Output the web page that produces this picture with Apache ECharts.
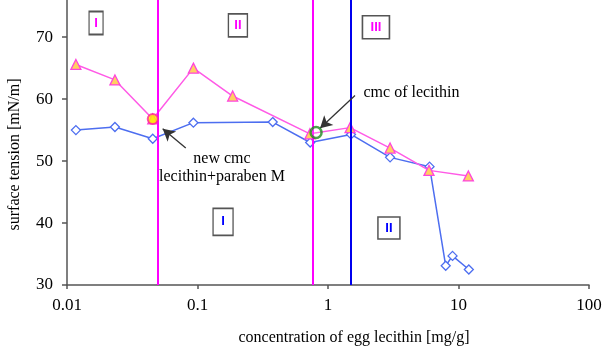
<!DOCTYPE html>
<html><head><meta charset="utf-8">
<script src="https://cdn.jsdelivr.net/npm/echarts@6/dist/echarts.min.js"></script>
<style>html,body{margin:0;padding:0;background:#fff}#c{width:602px;height:350px}</style>
</head><body><div id="c"></div>
<script>
// data
const pinkX = [0.0117, 0.0233, 0.0454, 0.093, 0.186, 0.727, 1.476, 2.99, 5.94, 11.9];
const pinkY = [65.6, 63.1, 56.8, 65.0, 60.5, 54.4, 55.4, 52.1, 48.5, 47.6];
const blueX = [0.0117, 0.0233, 0.0454, 0.093, 0.377, 0.73, 1.5, 2.99, 6.0, 7.98, 9.0, 12.0];
const blueY = [55.0, 55.5, 53.6, 56.2, 56.3, 53.0, 54.3, 50.6, 49.1, 33.1, 34.7, 32.5];
const cmcPinkX = [0.0454, 0.759];   // magenta vertical lines
const cmcBlueX = [1.50];            // blue vertical line
const newCmc = [0.0454, 56.8];      // yellow point
const cmcLec = [0.81, 54.6];        // green circle
const yTicks = [30, 40, 50, 60, 70];
const xTicks = [0.01, 0.1, 1, 10, 100];
const pinkRegions = [['I', 0.0167, 72.3], ['II', 0.204, 71.9], ['III', 2.33, 71.6]];
const blueRegions = [['I', 0.157, 40.2], ['II', 2.93, 39.2]];
const notes = [
  {text: 'new cmc\nlecithin+paraben M', at: [0.154, 48.9], from: [0.0813, 52.1], to: [0.0541, 55.2]},
  {text: 'cmc of lecithin', at: [1.854, 61.0], from: [1.61, 60.6], to: [0.869, 55.3]}
];

const serif = '"Liberation Serif", "Times New Roman", serif';
const chart = echarts.init(document.getElementById('c'));

function boxes(list, color, sizes) {
  return list.map((r, i) => ({
    coord: [r[1], r[2]],
    symbol: 'rect',
    symbolSize: sizes[i],
    itemStyle: {color: '#fff', borderColor: '#555', borderWidth: 1.5},
    label: {show: true, position: 'inside', formatter: r[0], color: color,
      fontFamily: '"Liberation Sans", Arial, sans-serif', fontWeight: 'bold', fontSize: 13}
  }));
}

chart.setOption({
  animation: false,
  grid: {left: 67, right: 13, top: 0, bottom: 65, containLabel: false, outerBoundsMode: 'none'},
  xAxis: {
    type: 'log', logBase: 10, min: 0.01, max: 100,
    name: 'concentration of egg lecithin [mg/g]', nameLocation: 'middle', nameGap: 45,
    nameTextStyle: {fontFamily: serif, fontSize: 16, color: '#000', padding: [0, 0, 0, 52]},
    axisLine: {lineStyle: {color: '#555', width: 1.5}},
    axisTick: {show: true, length: 4, lineStyle: {color: '#555', width: 1.5}},
    minorTick: {show: false},
    splitLine: {show: false},
    axisLabel: {fontFamily: serif, fontSize: 17, color: '#000', margin: 12,
      formatter: v => String(+v.toPrecision(3))}
  },
  yAxis: {
    type: 'value', min: 30, max: 76, interval: 10,
    name: 'surface tension [mN/m]', nameLocation: 'middle', nameGap: 44,
    nameTextStyle: {fontFamily: serif, fontSize: 16, color: '#000', padding: [0, 24, 0, 0]},
    axisLine: {show: true, lineStyle: {color: '#555', width: 1.5}},
    axisTick: {show: true, length: 5, customValues: yTicks, lineStyle: {color: '#555', width: 1.5}},
    splitLine: {show: false},
    axisLabel: {fontFamily: serif, fontSize: 17, color: '#000', margin: 14, customValues: yTicks}
  },
  series: [
    {
      type: 'line', data: [], z: 1,
      markLine: {
        silent: true, symbol: 'none', animation: false,
        label: {show: false},
        data: cmcPinkX.map(x => ({xAxis: x, lineStyle: {color: '#ff00ff', width: 2, type: 'solid'}}))
          .concat(cmcBlueX.map(x => ({xAxis: x, lineStyle: {color: '#0000ee', width: 2, type: 'solid'}})))
      }
    },
    {
      name: 'lecithin', type: 'line', z: 3,
      data: blueX.map((x, i) => [x, blueY[i]]),
      symbol: 'diamond', symbolSize: 9, showAllSymbol: true,
      lineStyle: {color: '#4d6ef0', width: 1.5},
      itemStyle: {color: '#fff', borderColor: '#4d6ef0', borderWidth: 1.3}
    },
    {
      name: 'lecithin+paraben M', type: 'line', z: 4,
      data: pinkX.map((x, i) => [x, pinkY[i]]),
      symbol: 'triangle', symbolSize: 10, showAllSymbol: true,
      lineStyle: {color: '#ff5ae6', width: 1.5},
      itemStyle: {color: '#ffd060', borderColor: '#ff44dd', borderWidth: 1.3}
    },
    {
      type: 'scatter', z: 6,
      data: [{value: newCmc, symbolSize: 10, itemStyle: {color: '#ffee00', borderColor: '#ff2299', borderWidth: 2}},
             {value: cmcLec, symbolSize: 11, itemStyle: {color: 'rgba(255,255,255,0.2)', borderColor: '#1f8a1f', borderWidth: 2.5}}],
      symbol: 'circle'
    },
    {
      type: 'scatter', data: [], z: 7,
      markPoint: {
        silent: true, animation: false,
        data: boxes(pinkRegions, '#ff00ff', [[14, 23], [19, 23], [27, 23]])
          .concat(boxes(blueRegions, '#0000ff', [[20, 27], [22, 22]]))
          .concat(notes.map((n, i) => ({
            coord: n.at, symbol: 'rect', symbolSize: 1, itemStyle: {color: 'rgba(0,0,0,0)'},
            label: {show: true, position: i === 0 ? 'inside' : 'right', distance: 0,
              formatter: n.text, fontFamily: serif, fontSize: 16, color: '#000', lineHeight: 18, align: i === 0 ? 'center' : 'left'}
          })))
      },
      markLine: {
        silent: true, animation: false, symbol: ['none', 'arrow'], symbolSize: [10, 12],
        label: {show: false},
        lineStyle: {color: '#333', width: 1.3, type: 'solid'},
        data: notes.map(n => [{coord: n.from}, {coord: n.to}])
      }
    }
  ]
});
</script></body></html>
